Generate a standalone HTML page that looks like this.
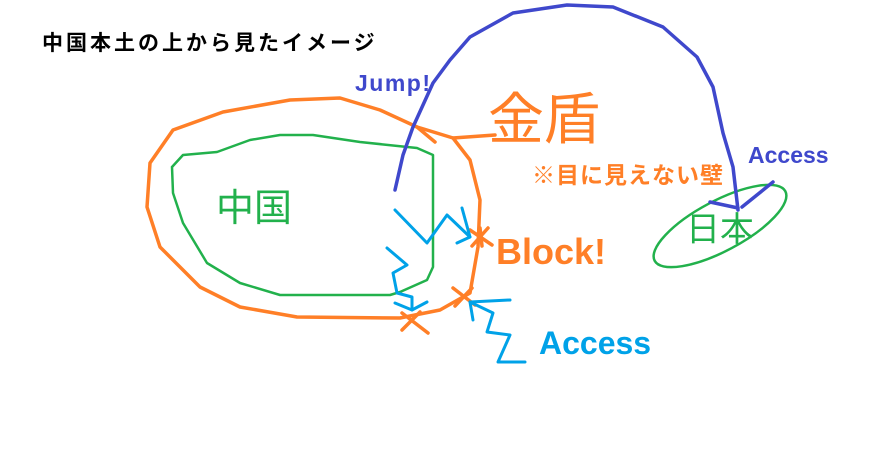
<!DOCTYPE html>
<html><head><meta charset="utf-8"><style>
html,body{margin:0;padding:0;background:#fff;}
body{width:870px;height:471px;overflow:hidden;position:relative;font-family:"Liberation Sans","Noto Sans CJK JP",sans-serif;}
.t{position:absolute;white-space:nowrap;font-weight:bold;line-height:1;}
</style></head><body>
<svg width="870" height="471" style="position:absolute;left:0;top:0" fill="none" stroke-linecap="round" stroke-linejoin="round">
<g stroke="#ff7f27" stroke-width="3.5">
<polyline points="417,127 380,110 340,98 290,100 223,112 173,130 150,163 147,207 160,247 200,287 240,307 297,317 400,318 440,310 470,293 478,247 480,200 470,160 453,138 417,127"/>
<polyline points="453,138 495,135"/>
<polyline points="417,127 435,142"/>
<line x1="470" y1="230" x2="492" y2="245"/><line x1="488" y1="228" x2="472" y2="246"/><line x1="480" y1="228" x2="482" y2="246"/>
<line x1="453" y1="288" x2="475" y2="305"/><line x1="472" y1="288" x2="455" y2="306"/>
<line x1="402" y1="313" x2="428" y2="333"/><line x1="420" y1="312" x2="402" y2="330"/>
</g>
<g stroke="#22b14c" stroke-width="2.5">
<polyline points="172,167 183,155 217,152 250,140 280,135 313,135 360,142 417,148 433,155 433,267 427,280 400,292 390,295 280,295 240,283 207,263 183,223 173,193 172,167"/>
<ellipse cx="720" cy="226" rx="74" ry="25" transform="rotate(-28 720 226)"/>
</g>
<g stroke="#3f48cc" stroke-width="3.5">
<polyline points="395,190 403,155 413,127 433,83 450,60 470,37 513,13 567,5 613,7 663,27 697,57 713,87 723,133 733,167 738,210"/>
<polyline points="710,202 738,208"/><polyline points="773,182 742,207"/>
</g>
<g stroke="#00a2e8" stroke-width="3">
<polyline points="395,210 427,243 447,215 470,237"/><polyline points="462,208 470,237 457,243"/>
<polyline points="387,248 407,265 393,273 397,293 412,297 412,310 427,302"/><polyline points="395,303 412,310"/>
<polyline points="525,362 498,362 510,335 487,332 493,313 470,302"/><polyline points="510,300 470,302 473,320"/>
</g>
</svg>
<div class="t" style="left:42px;top:33px;font-size:21px;letter-spacing:3px;color:#000">中国本土の上から見たイメージ</div>
<div class="t" style="left:355px;top:72px;font-size:23px;letter-spacing:1.5px;color:#3f48cc">Jump!</div>
<div class="t" style="left:488px;top:92px;font-size:56px;color:#ff7f27;font-weight:normal">金盾</div>
<div class="t" style="left:532px;top:164px;font-size:23px;letter-spacing:1px;color:#ff7f27">※目に見えない壁</div>
<div class="t" style="left:748px;top:144px;font-size:23px;color:#3f48cc">Access</div>
<div class="t" style="left:496px;top:234px;font-size:36px;color:#ff7f27">Block!</div>
<div class="t" style="left:539px;top:327px;font-size:32px;color:#00a2e8">Access</div>
<div class="t" style="left:216px;top:190px;font-size:38px;color:#22b14c;font-weight:normal">中国</div>
<div class="t" style="left:686px;top:213px;font-size:34px;color:#22b14c;font-weight:normal">日本</div>
</body></html>
